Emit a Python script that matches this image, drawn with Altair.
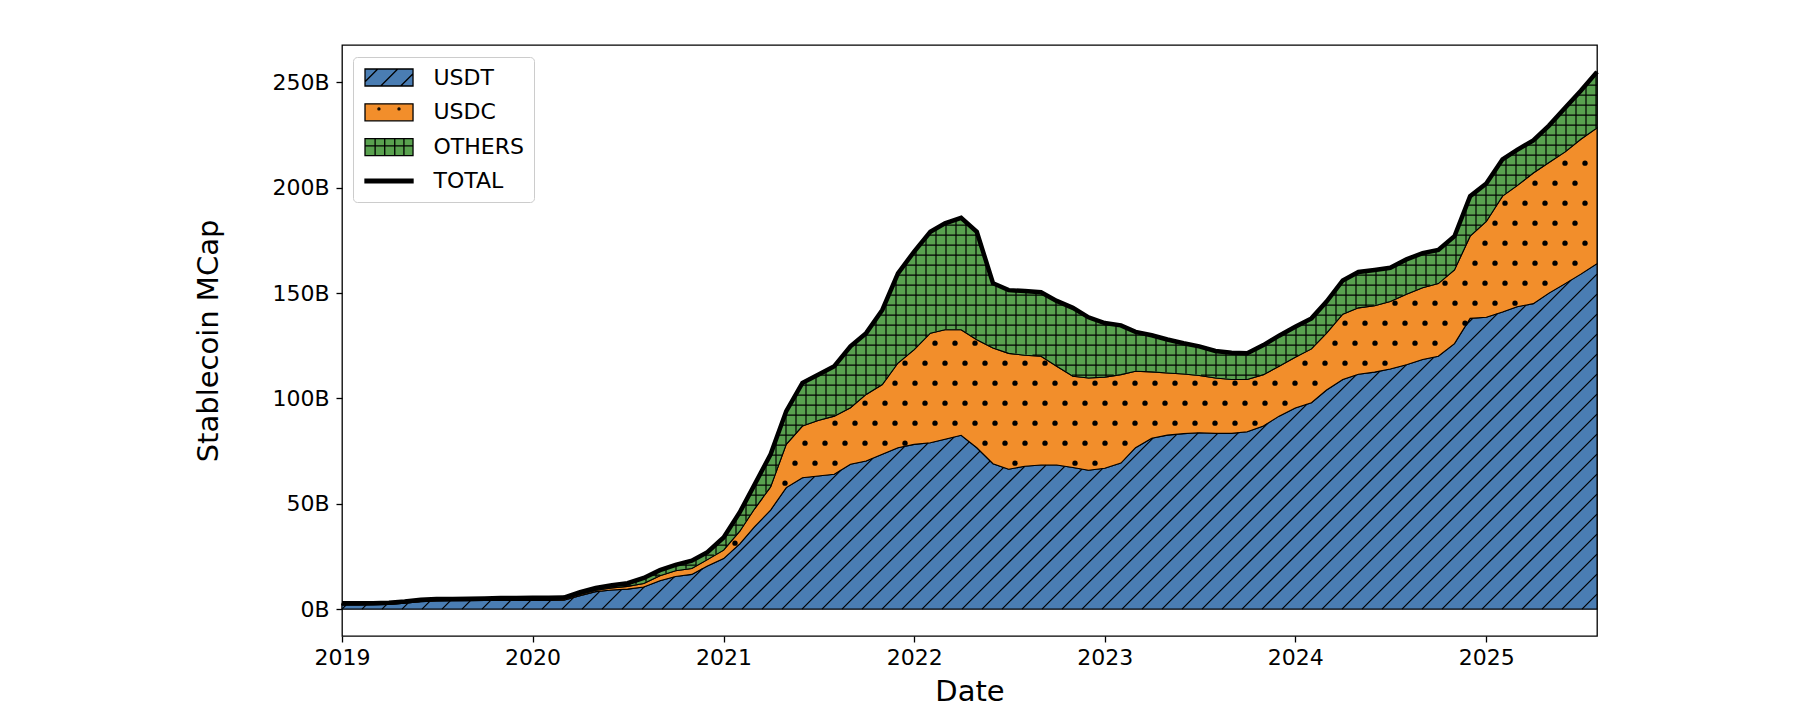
import altair as alt
import numpy as np
import pandas as pd

# ---------------- data (billions USD, first day of each month) ----------------
MONTHS = pd.date_range("2019-01-01", "2025-08-01", freq="MS")

USDT = [2.0, 2.0, 2.05, 2.2, 2.8, 3.5, 3.9, 3.95, 4.0, 4.1, 4.1, 4.1,
        4.1, 4.1, 4.2, 6.4, 8.3, 9.1, 9.5, 10.5, 13.5, 15.5, 16.5, 20.5,
        24.0, 31.0, 39.0, 47.0, 57.7, 62.4, 63.2, 64.0, 68.8, 70.3, 73.5, 76.6,
        78.2, 79.0, 80.6, 82.5, 76.6, 69.0, 66.4, 67.8, 68.4, 68.4, 67.2, 65.9,
        66.9, 69.3, 76.6, 81.1, 82.6, 83.3, 83.7, 83.4, 83.4, 84.2, 86.9, 91.6,
        95.5, 98.0, 104.0, 109.0, 111.5, 112.5, 114.0, 116.0, 118.5, 120.0, 126.0, 138.0,
        138.5, 141.0, 143.5, 145.0, 150.0, 154.5, 159.0, 164.0]

USDC = [0.25, 0.25, 0.25, 0.25, 0.3, 0.35, 0.45, 0.45, 0.45, 0.45, 0.5, 0.5,
        0.5, 0.5, 0.6, 0.7, 0.7, 1.0, 1.3, 1.7, 2.3, 2.7, 2.8, 3.0,
        4.0, 6.0, 8.5, 11.0, 20.5, 24.5, 26.3, 27.6, 26.8, 31.6, 33.1, 40.2,
        45.0, 52.0, 52.0, 50.1, 51.3, 54.9, 55.0, 52.7, 51.6, 46.9, 43.3, 43.8,
        43.2, 42.0, 36.3, 31.5, 29.5, 28.3, 27.2, 26.3, 25.6, 24.8, 24.4, 23.7,
        24.0, 25.5, 27.0, 31.0, 31.5, 31.5, 32.0, 33.5, 34.0, 34.5, 35.0, 39.0,
        45.5, 55.0, 57.5, 62.0, 62.0, 62.5, 64.0, 64.4]

OTHERS = [0.55, 0.55, 0.55, 0.55, 0.5, 0.55, 0.45, 0.45, 0.5, 0.55, 0.7, 0.7,
          0.8, 0.8, 0.7, 0.9, 1.0, 1.2, 1.5, 2.6, 2.7, 2.8, 3.7, 3.5,
          6.0, 9.0, 11.5, 15.5, 15.8, 20.5, 21.8, 23.7, 29.1, 29.1, 35.4, 42.6,
          46.5, 48.1, 50.5, 53.1, 51.2, 30.8, 30.0, 30.5, 30.4, 31.0, 32.5, 28.8,
          25.7, 23.4, 18.7, 17.4, 15.9, 14.6, 13.8, 12.8, 12.7, 12.5, 14.0, 14.5,
          14.5, 14.5, 15.0, 16.0, 17.0, 17.0, 16.0, 16.5, 16.5, 16.0, 16.0, 19.0,
          18.0, 17.5, 17.0, 15.5, 17.5, 21.0, 23.0, 26.6]

SERIES = ["USDT", "USDC", "OTHERS", "TOTAL"]
COLORS = ["#4a7db3", "#f28e2b", "#59a14f", "#000000"]
Y_TICKS = [0, 50, 100, 150, 200, 250]

# ---------------- geometry ----------------
W, H = 1255, 591
YMIN, YMAX = -12.75, 267.75
FONT = "DejaVu Sans"

usdt = np.array(USDT)
top = usdt + np.array(USDC)
total = top + np.array(OTHERS)

fmt = "%Y-%m-%dT%H:%M:%S"
df = pd.DataFrame({
    "date": [d.strftime(fmt) for d in MONTHS],
    "zero": 0.0, "usdt": usdt, "top": top, "total": total,
})

# ---------------- hatch patterns (derived from the series) ----------------
t_days = (MONTHS - MONTHS[0]).days.values.astype(float)
span = t_days[-1]
U = t_days / span * W


def vpx(v):
    return (np.asarray(v, dtype=float) - YMIN) / (YMAX - YMIN) * H


def to_date(u):
    return (MONTHS[0] + pd.to_timedelta(float(u) / W * span, unit="D")).strftime(fmt)


def to_val(p):
    return YMIN + float(p) / H * (YMAX - YMIN)


def runs(mask, uu):
    d = np.diff(np.concatenate([[0], mask.astype(int), [0]]))
    idx = np.flatnonzero(d)
    return [(uu[s], uu[e - 1]) for s, e in zip(idx[::2], idx[1::2]) if e - 1 > s]


uu = np.arange(0, W + 0.001, 0.25)
b0 = float(vpx(0))
FU = np.interp(uu, U, vpx(usdt))
FT = np.interp(uu, U, vpx(top))
FS = np.interp(uu, U, vpx(total))

segs = []
# USDT: diagonal lines "//"
for c in np.arange(-20, W, 20.0):
    lv = b0 + (uu - c)
    m = (lv >= b0) & (lv <= FU)
    for ua, ub in runs(m, uu):
        segs.append((to_date(ua), to_val(b0 + ua - c), to_date(ub), to_val(b0 + ub - c)))
# OTHERS: grid "+"
for u in np.arange(4, W, 10.0):
    lo = np.interp(u, U, vpx(top)) + 0.6
    hi = np.interp(u, U, vpx(total)) - 0.6
    if hi - lo > 0.5:
        segs.append((to_date(u), to_val(lo), to_date(u), to_val(hi)))
for p in np.arange(b0 + 4, H, 10.0):
    m = (FT + 0.6 < p) & (p < FS - 0.6)
    for ua, ub in runs(m, uu):
        segs.append((to_date(ua), to_val(p), to_date(ub), to_val(p)))
hatch = pd.DataFrame(segs, columns=["x", "y", "x2", "y2"])

dots = []
for j, p in enumerate(np.arange(b0 + 6, H, 20.0)):
    for u in np.arange(3 + (10 if j % 2 else 0), W - 2, 20.0):
        if np.interp(u, U, vpx(usdt)) + 2.5 < p < np.interp(u, U, vpx(top)) - 2.5:
            dots.append((to_date(u), to_val(p)))
dots = pd.DataFrame(dots, columns=["x", "y"])

legend_df = pd.DataFrame({"series": SERIES, "date": df["date"].iloc[-1],
                          "total": total[-1]})

# ---------------- encodings ----------------
X_SCALE = alt.Scale(domain=[alt.DateTime(year=2019, month=1, date=1),
                            alt.DateTime(year=2025, month=8, date=1)])
Y_SCALE = alt.Scale(domain=[YMIN, YMAX], nice=False, zero=False)
X_AXIS = alt.Axis(format="%Y", tickCount={"interval": "year", "step": 1},
                  labelPadding=5, titlePadding=9, labelFlush=False,
                  labelOverlap=False)
Y_AXIS = alt.Axis(values=Y_TICKS, labelExpr="datum.value + 'B'",
                  labelPadding=7, titlePadding=48)


def X(field):
    return alt.X(f"{field}:T", scale=X_SCALE, axis=X_AXIS, title="Date")


def Y(field):
    return alt.Y(f"{field}:Q", scale=Y_SCALE, axis=Y_AXIS, title="Stablecoin MCap")


base = alt.Chart(df)
area_usdt = base.mark_area(color=COLORS[0], stroke="black", strokeWidth=1.1).encode(
    x=X("date"), y=Y("usdt"), y2="zero")
area_usdc = base.mark_area(color=COLORS[1], stroke="black", strokeWidth=1.1).encode(
    x=X("date"), y=Y("top"), y2="usdt")
area_oth = base.mark_area(color=COLORS[2], stroke="black", strokeWidth=1.1).encode(
    x=X("date"), y=Y("total"), y2="top")

hatch_layer = alt.Chart(hatch).mark_rule(color="black", strokeWidth=1.2).encode(
    x=X("x"), x2="x2", y=Y("y"), y2="y2")
dot_layer = alt.Chart(dots).mark_circle(color="black", size=28, opacity=1).encode(
    x=X("x"), y=Y("y"))

total_line = base.mark_line(color="black", strokeWidth=4.5).encode(
    x=X("date"), y=Y("total"))

PATHS = [
    "M-1,-1L4.65,-1L4.65,1L-1,1Z M-1,0.5L0.5,-1 M0.85,1L2.85,-1 M3.2,1L4.65,-0.45",
    "M-1,-1L4.65,-1L4.65,1L-1,1Z M0.52,-0.4a0.12,0.12 0 1,1 0.24,0a0.12,0.12 0 1,1 -0.24,0Z "
    "M2.88,-0.4a0.12,0.12 0 1,1 0.24,0a0.12,0.12 0 1,1 -0.24,0Z",
    "M-1,-1L4.65,-1L4.65,1L-1,1Z M0.19,-1L0.19,1 M1.32,-1L1.32,1 M2.5,-1L2.5,1 "
    "M3.58,-1L3.58,1 M-1,-0.15L4.65,-0.15",
    "M-1,-0.22L4.65,-0.22L4.65,0.22L-1,0.22Z",
]
LEGEND = alt.Legend(title=None, orient="none", legendX=11, legendY=12,
                    direction="vertical", symbolSize=289,
                    symbolStrokeColor="black", symbolStrokeWidth=1.3,
                    labelFont=FONT, labelFontSize=22, labelColor="black",
                    labelOffset=49, rowPadding=10.8, padding=9.5,
                    fillColor="rgba(255,255,255,0.8)", strokeColor="#cccccc",
                    cornerRadius=4, symbolOpacity=1, labelLimit=300)
legend_layer = alt.Chart(legend_df).mark_point(filled=True, opacity=0,
                                               strokeWidth=1.3).encode(
    x=X("date"), y=Y("total"),
    fill=alt.Fill("series:N", scale=alt.Scale(domain=SERIES, range=COLORS),
                  legend=LEGEND, sort=SERIES),
    shape=alt.Shape("series:N", scale=alt.Scale(domain=SERIES, range=PATHS),
                    legend=LEGEND, sort=SERIES),
    stroke=alt.Stroke("series:N",
                      scale=alt.Scale(domain=SERIES, range=["black"] * 4),
                      legend=LEGEND, sort=SERIES),
)

chart = alt.layer(
    area_usdt, area_usdc, area_oth, hatch_layer, dot_layer, total_line, legend_layer
).properties(
    width=W, height=H,
    padding={"left": 334, "top": 37, "right": 180, "bottom": 74},
    autosize=alt.AutoSizeParams(type="none"),
).configure_view(
    stroke="black", strokeWidth=1.3
).configure_axis(
    labelFont=FONT, titleFont=FONT, labelFontSize=22, titleFontSize=29,
    titleFontWeight="normal", labelColor="black", titleColor="black",
    tickColor="black", tickWidth=1.3, tickSize=6, grid=False, domain=False,
)

chart.save("out.html", embed_options={"renderer": "svg", "actions": False})
